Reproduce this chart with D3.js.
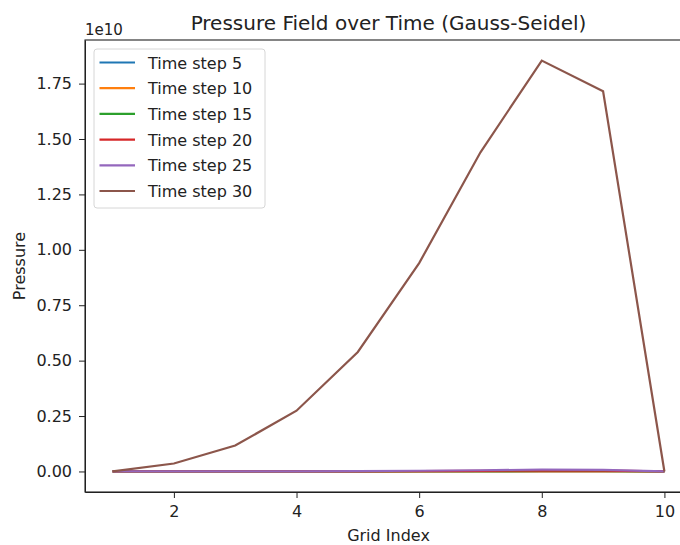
<!DOCTYPE html>
<meta charset="utf-8">
<style>
body { margin: 0; background: white; font-family: 'DejaVu Sans', sans-serif; }
.tick text { font-size: 16px; fill: #222; font-family: 'DejaVu Sans', sans-serif; }
.tick line, .domain { stroke: #222; }
</style>
<body>
<script src="https://cdn.jsdelivr.net/npm/d3@7"></script>
<script>
// grid index 1..10
var gridIndex = [1, 2, 3, 4, 5, 6, 7, 8, 9, 10];
var stepNames = ["Time step 5", "Time step 10", "Time step 15", "Time step 20", "Time step 25", "Time step 30"];
var stepColors = ["#1f77b4", "#ff7f0e", "#2ca02c", "#d62728", "#9467bd", "#8c564b"];
// pressure values (in Pa)
var step5 = [0, 1e3, 5e3, 2e4, 6e4, 1.5e5, 3e5, 5e5, 4e5, 0];
var step10 = [0, 2e4, 9e4, 3e5, 8e5, 1.8e6, 3.4e6, 5e6, 4.5e6, 0];
var step15 = [0, 1e5, 5e5, 1.6e6, 4e6, 8.5e6, 1.5e7, 2.2e7, 2e7, 0];
var step20 = [0, 3e5, 1.2e6, 3.5e6, 8e6, 1.6e7, 2.8e7, 4e7, 3.6e7, 0];
var step25 = [0, 6e5, 2.5e6, 7e6, 1.6e7, 3.2e7, 5.5e7, 8e7, 7.2e7, 0];
var step30 = [0, 3.6e8, 1.17e9, 2.74e9, 5.39e9, 9.4e9, 1.44e10, 1.854e10, 1.715e10, 0];
var series = [step5, step10, step15, step20, step25, step30];
var yTicks = [0, 0.25e10, 0.5e10, 0.75e10, 1.0e10, 1.25e10, 1.5e10, 1.75e10];
var xTicks = [2, 4, 6, 8, 10];

var W = 680, H = 545;
var margin = { left: 85, top: 40, right: 692, bottom: 492 };

var svg = d3.select("body").append("svg")
  .attr("width", W).attr("height", H);

var x = d3.scaleLinear().domain([0.55, 10.45]).range([margin.left, margin.right]);
var ymax = 1.854e10;
var y = d3.scaleLinear().domain([-0.05 * ymax, 1.05 * ymax]).range([margin.bottom, margin.top]);

var fmt = d3.format(".2f");

svg.append("g")
  .attr("transform", "translate(0," + margin.bottom + ")")
  .call(d3.axisBottom(x).tickValues(xTicks).tickSize(6).tickPadding(8).tickSizeOuter(0).tickFormat(d3.format("d")));

svg.append("g")
  .attr("transform", "translate(" + margin.left + ",0)")
  .call(d3.axisLeft(y).tickValues(yTicks).tickSize(6).tickPadding(7).tickSizeOuter(0).tickFormat(d => fmt(d / 1e10)));

// frame
svg.append("rect")
  .attr("x", margin.left).attr("y", margin.top)
  .attr("width", margin.right - margin.left).attr("height", margin.bottom - margin.top)
  .attr("fill", "none").attr("stroke", "#222").attr("stroke-width", 1.1);

var line = d3.line()
  .x((d, i) => x(gridIndex[i]))
  .y(d => y(d));

series.forEach(function(s, k) {
  svg.append("path")
    .datum(s)
    .attr("fill", "none")
    .attr("stroke", stepColors[k])
    .attr("stroke-width", 2.2)
    .attr("d", line);
});

// offset text
svg.append("text").attr("x", margin.left).attr("y", 35)
  .style("font-size", "15px").attr("fill", "#222").text("1e10");

// title
svg.append("text").attr("x", (margin.left + margin.right) / 2).attr("y", 30)
  .attr("text-anchor", "middle").style("font-size", "20px").attr("fill", "#222")
  .text("Pressure Field over Time (Gauss-Seidel)");

svg.append("text").attr("x", (margin.left + margin.right) / 2).attr("y", 541)
  .attr("text-anchor", "middle").style("font-size", "16px").attr("fill", "#222")
  .text("Grid Index");

svg.append("text")
  .attr("transform", "translate(25," + (margin.top + margin.bottom) / 2 + ") rotate(-90)")
  .attr("text-anchor", "middle").style("font-size", "16px").attr("fill", "#222")
  .text("Pressure");

// legend
var lg = svg.append("g").attr("transform", "translate(94,49)");
lg.append("rect").attr("width", 171).attr("height", 159).attr("rx", 3)
  .attr("fill", "white").attr("fill-opacity", 0.8).attr("stroke", "#d6d6d6");
stepNames.forEach(function(name, k) {
  var yy = 13.5 + k * 25.7;
  lg.append("line").attr("x1", 5.5).attr("x2", 41).attr("y1", yy).attr("y2", yy)
    .attr("stroke", stepColors[k]).attr("stroke-width", 2.2);
  lg.append("text").attr("x", 54).attr("y", yy + 6)
    .style("font-size", "16px").attr("fill", "#222").text(name);
});
</script>
</body>
